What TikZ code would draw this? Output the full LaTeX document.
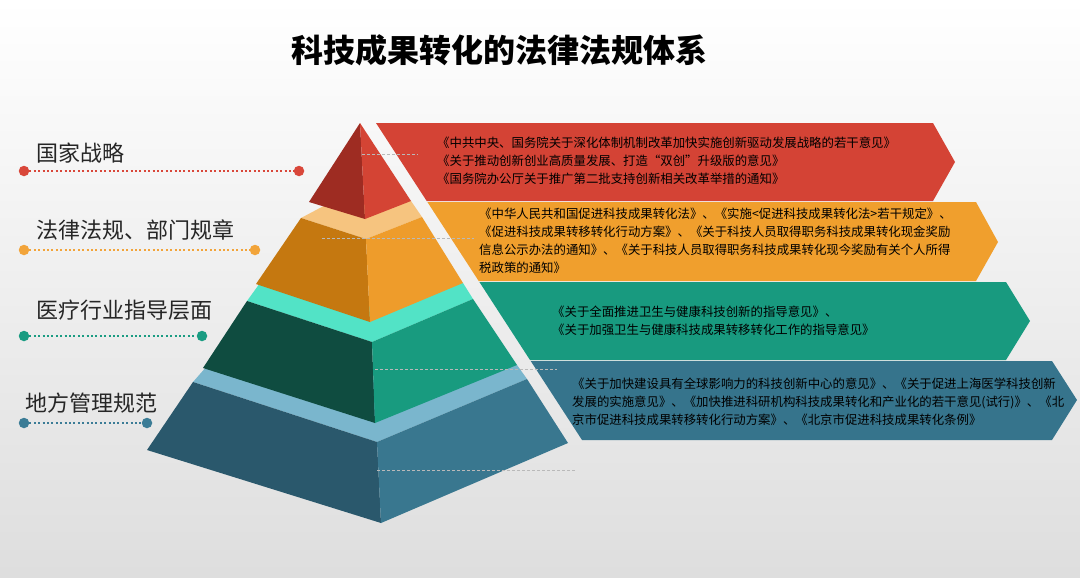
\documentclass[tikz,border=0pt]{standalone}
\usepackage{fontspec}
\newfontfamily\cjk{Noto Sans CJK SC}
\usetikzlibrary{positioning}
\definecolor{redL}{HTML}{9E2C22}
\definecolor{redR}{HTML}{D44434}
\definecolor{redB}{HTML}{D44335}
\definecolor{orT}{HTML}{F6C47F}
\definecolor{orL}{HTML}{C57810}
\definecolor{orR}{HTML}{EE9C2B}
\definecolor{orB}{HTML}{F09F2D}
\definecolor{tlT}{HTML}{52E3C6}
\definecolor{tlL}{HTML}{0F4C40}
\definecolor{tlR}{HTML}{189B7F}
\definecolor{tlB}{HTML}{189A7F}
\definecolor{blT}{HTML}{7AB6CD}
\definecolor{blL}{HTML}{2A586C}
\definecolor{blR}{HTML}{39778F}
\definecolor{blB}{HTML}{36748C}
\definecolor{dotR}{HTML}{D9473A}
\definecolor{dotO}{HTML}{F2A43A}
\definecolor{dotT}{HTML}{1A9C82}
\definecolor{dotB}{HTML}{3B7C96}
\tikzstyle{every node}=[font=\cjk]
\tikzstyle{tier}=[anchor=west, inner sep=0pt, text=black!85, font=\cjk\fontsize{22}{26}\selectfont]
\tikzstyle{doc}=[anchor=west, align=left, inner sep=0pt, text=black, font=\cjk\fontsize{12.4}{18}\selectfont]
\tikzstyle{enddot}=[circle, inner sep=0pt, minimum size=10.5pt]
\tikzstyle{dotline}=[line width=2.8pt, dash pattern=on 2pt off 2.4pt]
\tikzstyle{guide}=[gray!55, line width=0.8pt, dash pattern=on 3pt off 2pt]

\begin{document}
\begin{tikzpicture}[x=1pt,y=-1pt]
            \shade[top color=white, bottom color=black!13] (0,0) rectangle (1080,578);
            \useasboundingbox (0,0) rectangle (1080,578);
            \node[font=\cjk\bfseries\fontsize{32}{36}\selectfont] (title) at (499,50) {科技成果转化的法律法规体系};

            \fill[redB] (376,123) -- (933,123) -- (955,162) -- (933,201) -- (426.7,201) -- cycle;
            \fill[orB] (427.4,202) -- (976,202) -- (998,242) -- (976,281) -- (478.7,281) -- cycle;
            \fill[tlB] (479.4,282) -- (1006,282) -- (1030,321) -- (1006,360) -- (530,360) -- cycle;
            \fill[blB] (530.7,361) -- (1052,361) -- (1077,400) -- (1052,440) -- (582,440) -- cycle;

            \fill[blT] (193,382) -- (207,366) -- (375,380) -- (517,365) -- (527,379) -- (377,442) -- cycle;
            \fill[blL] (193,382) -- (377,442) -- (381,523) -- (147,450) -- cycle;
            \fill[blR] (377,442) -- (527,379) -- (568,443) -- (381,523) -- cycle;
            \fill[tlT] (247,301) -- (260,283) -- (370,300) -- (463,283) -- (473,299) -- (372,342) -- cycle;
            \fill[tlL] (247,301) -- (372,342) -- (375,423) -- (203,368) -- cycle;
            \fill[tlR] (372,342) -- (473,299) -- (517,365) -- (375,423) -- cycle;
            \fill[orT] (301,218) -- (335,200) -- (411,201) -- (422,217) -- (366,239) -- cycle;
            \fill[orL] (301,218) -- (366,239) -- (370,322) -- (256,284) -- cycle;
            \fill[orR] (366,239) -- (422,217) -- (463,283) -- (370,322) -- cycle;
            \fill[redL] (360,123) -- (309,202) -- (365,219) -- cycle;
            \fill[redR] (360,123) -- (365,219) -- (411,201) -- cycle;

            \coordinate (g1a) at (362,154); \coordinate (g1b) at (418,154);
            \coordinate (g2a) at (322,238); \coordinate (g2b) at (474,238);
            \coordinate (g3a) at (375,369); \coordinate (g3b) at (557,369);
            \coordinate (g4a) at (377,470); \coordinate (g4b) at (575,470);
            \draw[guide] (g1a) -- (g1b);
            \draw[guide] (g2a) -- (g2b);
            \draw[guide] (g3a) -- (g3b);
            \draw[guide] (g4a) -- (g4b);

            \node[doc] (law1) at (437,160.5) {《中共中央、国务院关于深化体制机制改革加快实施创新驱动发展战略的若干意见》\\《关于推动创新创业高质量发展、打造“双创”升级版的意见》\\《国务院办公厅关于推广第二批支持创新相关改革举措的通知》};
            \node[doc] (law2) at (479,241) {《中华人民共和国促进科技成果转化法》、《实施<促进科技成果转化法>若干规定》、\\《促进科技成果转移转化行动方案》、《关于科技人员取得职务科技成果转化现金奖励\\信息公示办法的通知》、《关于科技人员取得职务科技成果转化现今奖励有关个人所得\\税政策的通知》};
            \node[doc] (law3) at (552,320.5) {《关于全面推进卫生与健康科技创新的指导意见》、\\《关于加强卫生与健康科技成果转移转化工作的指导意见》};
            \node[doc] (law4) at (572,402) {《关于加快建设具有全球影响力的科技创新中心的意见》、《关于促进上海医学科技创新\\发展的实施意见》、《加快推进科研机构科技成果转化和产业化的若干意见(试行)》、《北\\京市促进科技成果转移转化行动方案》、《北京市促进科技成果转化条例》};

            \node[tier] (t1) at (36,153) {国家战略};
            \node[tier] (t2) at (36,230) {法律法规、部门规章};
            \node[tier] (t3) at (36,310) {医疗行业指导层面};
            \node[tier] (t4) at (25,403) {地方管理规范};

            \node[enddot, fill=dotR] (d1a) at (24,171) {};
            \node[enddot, fill=dotR] (d1b) at (299,171) {};
            \node[enddot, fill=dotO] (d2a) at (24,250) {};
            \node[enddot, fill=dotO] (d2b) at (255,250) {};
            \node[enddot, fill=dotT] (d3a) at (24,336) {};
            \node[enddot, fill=dotT] (d3b) at (202,336) {};
            \node[enddot, fill=dotB] (d4a) at (24,423) {};
            \node[enddot, fill=dotB] (d4b) at (147,423) {};
            \draw[dotline, dotR] (d1a) -- (d1b);
            \draw[dotline, dotO] (d2a) -- (d2b);
            \draw[dotline, dotT] (d3a) -- (d3b);
            \draw[dotline, dotB] (d4a) -- (d4b);
        \end{tikzpicture}
\end{document}
